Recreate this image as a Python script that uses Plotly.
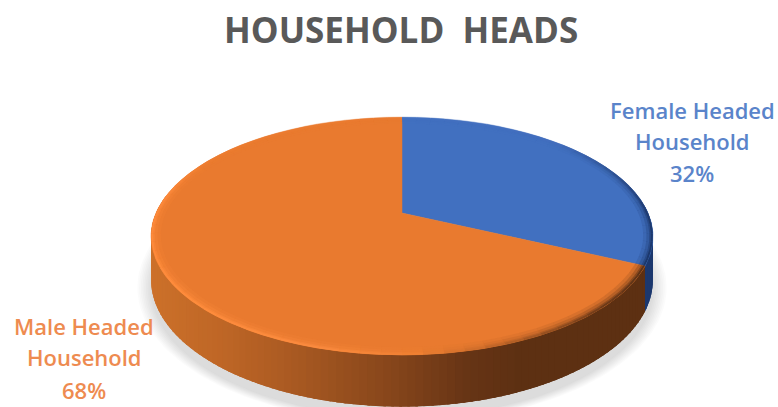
import numpy as np
import plotly.graph_objects as go

# Chart content
categories = ["Female Headed", "Male Headed"]
category_tail = "Household"
shares = [32, 68]
title_text = "HOUSEHOLD\u00a0\u00a0HEADS"

# Colours
top_colors = ["#4170C0", "#E97A2F"]
label_colors = ["#5A84CA", "#EE8B50"]
title_color = "#595959"

# Pixel-space projection of the tilted disc
CX, CY = 402.0, 213.0
R, H, K = 246.0, 113.8, 0.198
DEPTH = 41.5


def project(theta, drop=0.0, grow=1.0):
    """Angle clockwise from 12 o'clock to screen position on a perspective disc."""
    u, v = np.sin(theta) * grow, np.cos(theta) * grow
    w = 1 + K * v
    return CX + R * u / w, CY - H * v / w + drop / w


def lerp_stops(t, stops):
    xs = [s[0] for s in stops]
    return tuple(int(round(np.interp(t, xs, [s[1][i] for s in stops]))) for i in range(3))


def rgb(c, alpha=None):
    if alpha is None:
        return f"rgb({c[0]},{c[1]},{c[2]})"
    return f"rgba({c[0]},{c[1]},{c[2]},{alpha})"


# Wall shading over screen x
orange_wall = [(150, (205, 113, 42)), (230, (190, 102, 38)), (300, (170, 90, 34)),
               (400, (135, 70, 27)), (480, (102, 52, 21)), (530, (93, 48, 18)), (660, (93, 48, 18))]
blue_wall = [(600, (30, 58, 112)), (660, (28, 56, 110))]
# Rim light around the top face, by angle in degrees
orange_rim = [(115, (92, 50, 22)), (135, (110, 58, 24)), (150, (150, 80, 32)), (165, (205, 108, 42)),
              (178, (240, 128, 50)), (195, (250, 138, 62)), (230, (255, 140, 60)), (280, (252, 136, 58)),
              (300, (236, 124, 48)), (360, (233, 122, 47))]
blue_rim = [(0, (66, 112, 192)), (45, (66, 110, 190)), (70, (45, 80, 145)), (90, (30, 58, 112)), (116, (28, 56, 108))]

fig = go.Figure()


def add_poly(xs, ys, color, edge=0.0):
    fig.add_trace(go.Scatter(x=xs, y=ys, mode="lines", fill="toself", fillcolor=color,
                             line=dict(width=edge, color=color), hoverinfo="skip", showlegend=False))


def add_rim(xs, ys, color, width):
    fig.add_trace(go.Scatter(x=xs, y=ys, mode="lines", line=dict(width=width, color=color),
                             hoverinfo="skip", showlegend=False))


# Soft drop shadow under the disc
full = np.linspace(0, 2 * np.pi, 181)
for i in range(9):
    sx, sy = project(full, drop=DEPTH + 5 + i * 0.4, grow=1.0 + 0.0065 * (8 - i))
    add_poly(sx, sy, "rgba(120,120,120,0.03)")

# Side wall, built as thin strips from the slice boundaries; each strip
# runs on under its neighbour so no seams show
fractions = np.cumsum([0] + shares) / sum(shares)
boundary = fractions[1] * 2 * np.pi
edges = np.radians(np.arange(84, 280, 1.5))
edges = np.sort(np.append(edges, boundary))
last = len(edges) - 2
for n in range(last, -1, -1):
    a, b = edges[n], edges[n + 1]
    is_blue = (a + b) / 2 < boundary
    # Drawn right-to-left in angle: strips overlap toward the larger angle
    reach = min(b + np.radians(2.0), edges[-1])
    if is_blue:
        reach = min(reach, boundary)
    seg = np.linspace(a, reach, 4)
    tx, ty = project(seg)
    bx, by = project(seg, drop=DEPTH)
    xs = np.concatenate([tx, bx[::-1], tx[:1]])
    ys = np.concatenate([ty, by[::-1], ty[:1]])
    mid_x = float(np.mean(project(np.array([a, b]))[0]))
    add_poly(xs, ys, rgb(lerp_stops(mid_x, blue_wall if is_blue else orange_wall)))

# Top face: one wedge per category, apex at the projected centre
for i, color in enumerate(top_colors):
    seg = np.linspace(fractions[i], fractions[i + 1], 160) * 2 * np.pi
    ex, ey = project(seg)
    add_poly(np.concatenate([[CX], ex, [CX]]), np.concatenate([[CY], ey, [CY]]), color, edge=0.5)

# Bevel light and shade along the rim: soft passes inside, crisp pass on the edge
steps = np.radians(np.arange(0, 364, 4.0))
steps = np.sort(np.append(steps, boundary))
passes = [(0.976, 7.0, 0.16), (0.985, 5.0, 0.28), (0.992, 3.0, 0.5), (0.996, 2.0, 1.0)]
for grow, width, alpha in passes:
    for a, b in zip(steps[:-1], steps[1:]):
        deg = np.degrees((a + b) / 2)
        is_blue = (a + b) / 2 < boundary
        c = lerp_stops(deg, blue_rim if is_blue else orange_rim)
        seg = np.linspace(a, b, 4)
        rx, ry = project(seg, grow=grow)
        add_rim(rx, ry, rgb(c, alpha), width)

fig.update_xaxes(visible=False, range=[0, 778], fixedrange=True)
fig.update_yaxes(visible=False, range=[407, 0], fixedrange=True)

annotations = [
    dict(x=401, y=29, text=title_text,
         font=dict(family="Open Sans", size=35, color=title_color, weight=700)),
]
label_places = [(692, [110, 141, 173]), (84, [326, 357, 390])]
for cat, share, color, (lx, lys) in zip(categories, shares, label_colors, label_places):
    for line, ly in zip([cat, category_tail, f"{share}%"], lys):
        annotations.append(dict(x=lx, y=ly, text=line,
                                font=dict(family="Open Sans", size=22, color=color, weight=600)))
for a in annotations:
    a.update(xref="x", yref="y", showarrow=False, xanchor="center", yanchor="middle")

fig.update_layout(width=778, height=407, margin=dict(l=0, r=0, t=0, b=0),
                  paper_bgcolor="white", plot_bgcolor="white",
                  showlegend=False, annotations=annotations)

fig.write_html("out.html", config=dict(displayModeBar=False))
